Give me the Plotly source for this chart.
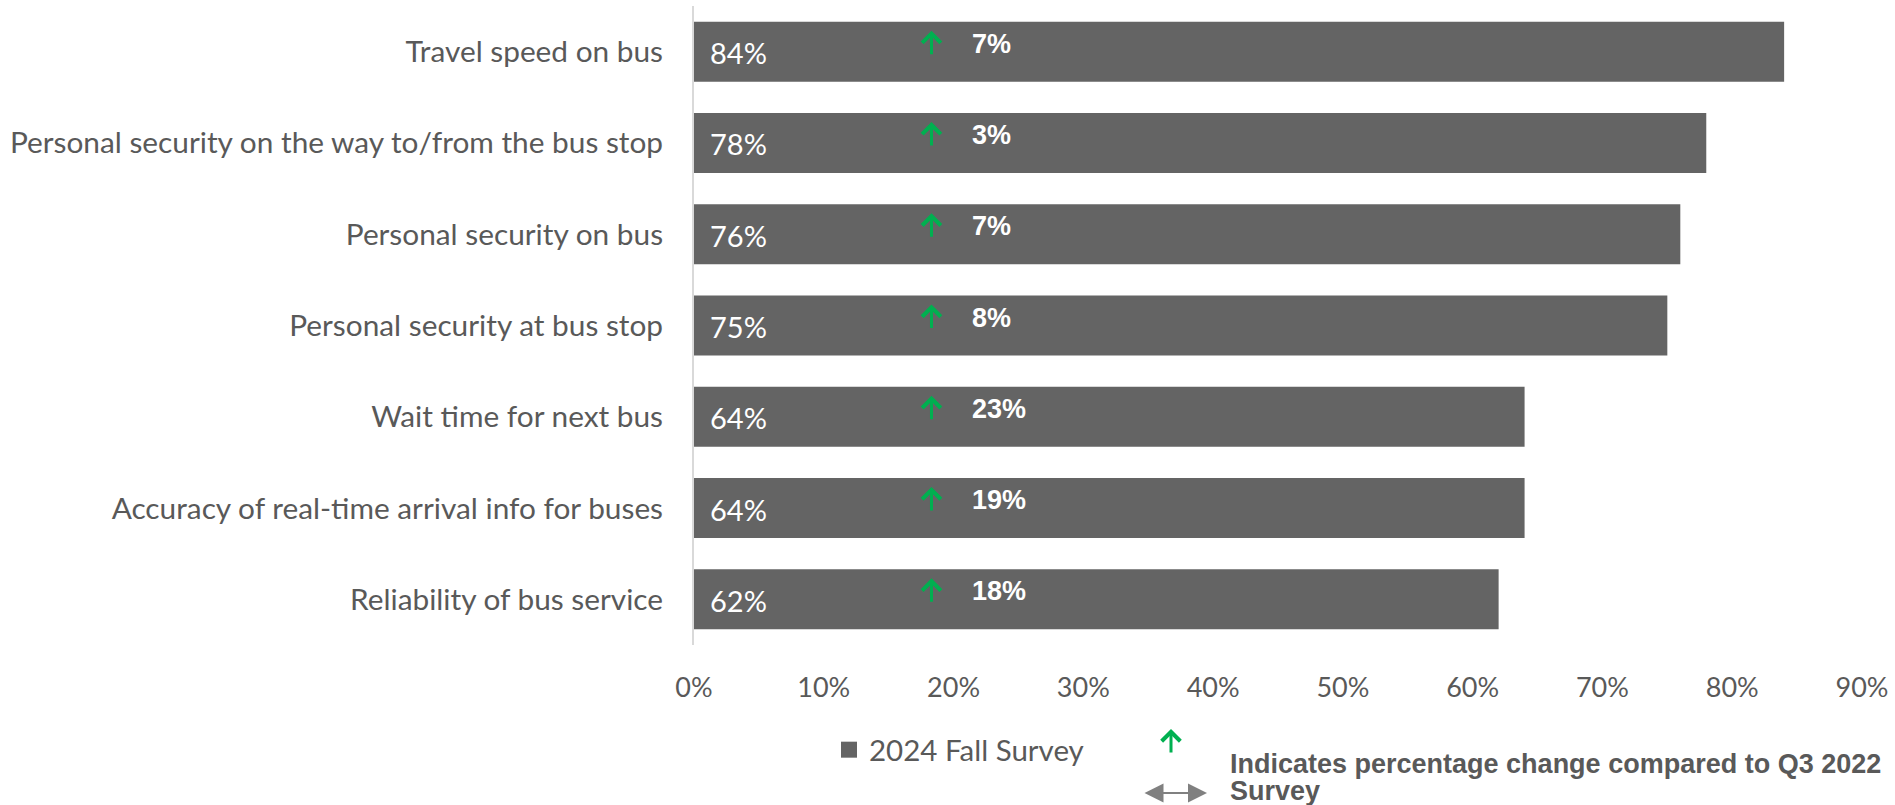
import plotly.graph_objects as go

# Satisfaction items, top to bottom
categories = [
    "Travel speed on bus",
    "Personal security on the way to/from the bus stop",
    "Personal security on bus",
    "Personal security at bus stop",
    "Wait time for next bus",
    "Accuracy of real-time arrival info for buses",
    "Reliability of bus service",
]
fall_2024 = [84, 78, 76, 75, 64, 64, 62]          # % satisfied, 2024 Fall Survey
change_vs_q3_2022 = [7, 3, 7, 8, 23, 19, 18]        # % change vs Q3 2022 Survey
x_ticks = [0, 10, 20, 30, 40, 50, 60, 70, 80, 90]

GREY_TEXT = "#595959"
BAR = "#646464"
GREEN = "#00B050"
BODY_FONT = "Lato"
BOLD_FONT = "Liberation Sans"

W, H = 1895, 805
M_L, M_R, M_T, M_B = 694, 33, 6, 160
PW, PH = W - M_L - M_R, H - M_T - M_B


def px_x(px):
    return (px - M_L) / PW


def px_y(py):
    return (H - M_B - py) / PH


fig = go.Figure()
fig.add_trace(go.Bar(
    x=fall_2024,
    y=categories,
    orientation="h",
    name="2024 Fall Survey",
    marker=dict(color=BAR, line=dict(width=0)),
    showlegend=False,
    hoverinfo="skip",
))
# legend key for the bar series
fig.add_trace(go.Scatter(
    x=[None], y=[None], mode="markers", name="2024 Fall Survey",
    marker=dict(symbol="square", size=18, color=BAR),
    showlegend=True, hoverinfo="skip",
))

annotations = []
for cat, val, chg in zip(categories, fall_2024, change_vs_q3_2022):
    # value label at the start of each bar
    annotations.append(dict(
        x=0, y=cat, xref="x", yref="y", text=f"{val}%", showarrow=False,
        xanchor="left", yanchor="middle", xshift=14, yshift=-1,
        font=dict(family=BODY_FONT, size=29, color="white"),
    ))
    # green up arrow
    annotations.append(dict(
        x=18.3, y=cat, xref="x", yref="y", text="", showarrow=True,
        ax=0, ay=25, axref="pixel", ayref="pixel", yshift=21,
        arrowhead=4, arrowsize=1.2, arrowwidth=3, arrowcolor=GREEN,
        standoff=0, startstandoff=0,
    ))
    # change value
    annotations.append(dict(
        x=21.3, y=cat, xref="x", yref="y", text=f"<b>{chg}%</b>", showarrow=False,
        xanchor="left", yanchor="middle", yshift=8,
        font=dict(family=BOLD_FONT, size=27, color="white"),
    ))

# key for the change indicator
annotations.append(dict(
    x=px_x(1171), y=px_y(729), xref="paper", yref="paper", text="", showarrow=True,
    ax=0, ay=25, axref="pixel", ayref="pixel",
    arrowhead=4, arrowsize=1.2, arrowwidth=3, arrowcolor=GREEN,
    standoff=0, startstandoff=0,
))
annotations.append(dict(
    x=px_x(1207), y=px_y(793), xref="paper", yref="paper", text="", showarrow=True,
    ax=-64, ay=0, axref="pixel", ayref="pixel",
    arrowhead=2, startarrowhead=2, arrowside="end+start",
    arrowsize=1.9, startarrowsize=1.9, arrowwidth=2, arrowcolor="#808080",
    standoff=0, startstandoff=0,
))
annotations.append(dict(
    x=px_x(1228), y=px_y(764), xref="paper", yref="paper",
    text="<b>Indicates percentage change compared to Q3 2022</b>", showarrow=False,
    xanchor="left", yanchor="middle",
    font=dict(family=BOLD_FONT, size=27, color=GREY_TEXT),
))
annotations.append(dict(
    x=px_x(1228), y=px_y(791), xref="paper", yref="paper",
    text="<b>Survey</b>", showarrow=False,
    xanchor="left", yanchor="middle",
    font=dict(family=BOLD_FONT, size=27, color=GREY_TEXT),
))

fig.update_layout(
    width=W, height=H,
    margin=dict(l=M_L, r=M_R, t=M_T, b=M_B, autoexpand=False),
    paper_bgcolor="white", plot_bgcolor="white",
    bargap=0.343,
    font=dict(family=BODY_FONT, size=27, color=GREY_TEXT),
    showlegend=True,
    legend=dict(
        x=px_x(829), y=px_y(750), xanchor="left", yanchor="middle",
        orientation="h", bgcolor="rgba(0,0,0,0)", itemsizing="trace",
        font=dict(family=BODY_FONT, size=29.5, color=GREY_TEXT),
    ),
    annotations=annotations,
)
fig.update_xaxes(
    range=[0, 90], tickvals=x_ticks, ticktext=[f"{t}%" for t in x_ticks],
    showgrid=False, zeroline=False, showline=False,
    ticks="", ticklabelstandoff=24,
    tickfont=dict(family=BODY_FONT, size=27, color=GREY_TEXT),
)
fig.update_yaxes(
    autorange="reversed", showgrid=False, zeroline=False,
    showline=True, linecolor="#D9D9D9", linewidth=2,
    ticks="", ticklabelstandoff=23,
    tickfont=dict(family=BODY_FONT, size=29.8, color=GREY_TEXT),
)

fig.write_html("out.html")
